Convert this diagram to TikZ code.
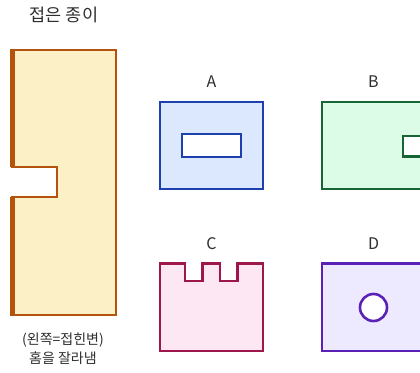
\documentclass[tikz,border=0pt]{standalone}
\usepackage{fontspec}
\newfontfamily\kr{Noto Sans CJK KR}
\definecolor{txt}{HTML}{2E2E2E}
\definecolor{pap}{HTML}{B4530C}
\definecolor{papf}{HTML}{FBF0C6}
\definecolor{ablu}{HTML}{1E40AF}
\definecolor{ablf}{HTML}{DBE8FD}
\definecolor{bgrn}{HTML}{166534}
\definecolor{bgrf}{HTML}{DCFCE7}
\definecolor{cpnk}{HTML}{9D174D}
\definecolor{cpnf}{HTML}{FCE7F3}
\definecolor{dvio}{HTML}{5B21B6}
\definecolor{dvif}{HTML}{EDE9FE}
\begin{document}
\begin{tikzpicture}[x=1pt,y=-1pt,
  lbl/.style={font=\kr\fontsize{16}{18}\selectfont, text=txt, inner sep=0pt},
  captxt/.style={font=\kr\fontsize{14}{19}\selectfont, text=txt, inner sep=0pt, align=center},
  shp/.style={line width=2.6pt, line join=miter},
  hole/.style={line width=2.6pt, fill=white}]
\useasboundingbox (0,0) rectangle (420,372);
\clip (0,0) rectangle (420,372);
% title
\node[lbl, font=\kr\fontsize{17.5}{20}\selectfont] (title) at (64,15) {접은 종이};
% folded paper
\draw[shp, draw=pap, fill=papf] (12,50) -- (116,50) -- (116,315) -- (12,315) -- (12,197) -- (57,197) -- (57,167) -- (12,167) -- cycle;
\draw[line width=5.5pt, draw=pap] (12.5,48.7) -- (12.5,167);
\draw[line width=5.5pt, draw=pap] (12.5,197) -- (12.5,316.3);
\node[captxt] (note) at (63,349) {(왼쪽=접힌변)\\홈을 잘라냄};
% A
\node[lbl] (la) at (211.5,82) {A};
\draw[shp, draw=ablu, fill=ablf] (160,102) rectangle (263,189);
\draw[hole, draw=ablu] (182,134) rectangle (241,157);
% B
\node[lbl] (lb) at (373.5,82) {B};
\draw[shp, draw=bgrn, fill=bgrf] (322,102) rectangle (425,189);
\draw[hole, draw=bgrn] (403,136) rectangle (430,156.5);
% C
\node[lbl] (lc) at (211.5,244) {C};
\draw[shp, draw=cpnk, fill=cpnf] (160,263.5) -- (185,263.5) -- (185,281) -- (202.5,281) -- (202.5,263.5) -- (220,263.5) -- (220,281) -- (237.5,281) -- (237.5,263.5) -- (263,263.5) -- (263,351) -- (160,351) -- cycle;
% D
\node[lbl] (ld) at (373.5,244) {D};
\draw[shp, draw=dvio, fill=dvif] (322,263.5) rectangle (425,351);
\draw[hole, draw=dvio] (373.5,307.5) circle (13.5);
\end{tikzpicture}
\end{document}
